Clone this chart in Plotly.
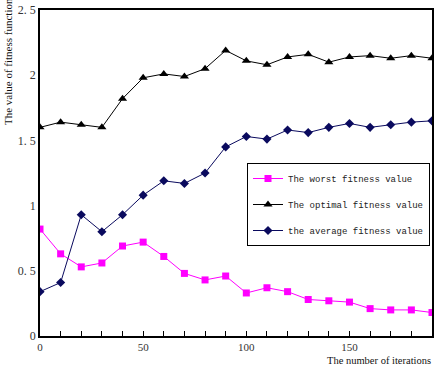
import plotly.graph_objects as go

iterations = [0, 10, 20, 30, 40, 50, 60, 70, 80, 90, 100, 110, 120, 130, 140, 150, 160, 170, 180, 190]
worst = [0.82, 0.63, 0.53, 0.56, 0.69, 0.72, 0.61, 0.48, 0.43, 0.46, 0.33, 0.37, 0.34, 0.28, 0.27, 0.26, 0.21, 0.20, 0.20, 0.18]
optimal = [1.60, 1.64, 1.62, 1.60, 1.82, 1.98, 2.01, 1.99, 2.05, 2.19, 2.11, 2.08, 2.14, 2.16, 2.10, 2.14, 2.15, 2.13, 2.15, 2.13]
average = [0.34, 0.41, 0.93, 0.80, 0.93, 1.08, 1.19, 1.17, 1.25, 1.45, 1.53, 1.51, 1.58, 1.56, 1.60, 1.63, 1.60, 1.62, 1.64, 1.65]
y_ticks = [0, 0.5, 1, 1.5, 2, 2.5]
y_tick_labels = ["0", "0. 5", "1", "1. 5", "2", "2. 5"]
x_ticks = [0, 50, 100, 150]

fig = go.Figure()
fig.add_trace(go.Scatter(x=iterations, y=worst, mode="lines+markers", name="The worst fitness value",
                         legendgroup="a",
                         line=dict(color="#ff00ff", width=1),
                         marker=dict(symbol="square", size=7, color="#ff00ff")))
fig.add_trace(go.Scatter(x=iterations, y=optimal, mode="lines+markers", name="The optimal fitness value",
                         legendgroup="b",
                         line=dict(color="#000000", width=1),
                         marker=dict(symbol="triangle-up", size=8, color="#000000")))
fig.add_trace(go.Scatter(x=iterations, y=average, mode="lines+markers", name="the average fitness value",
                         legendgroup="c",
                         line=dict(color="#0a0a5e", width=1),
                         marker=dict(symbol="diamond", size=7, color="#0a0a5e")))

fig.update_layout(
    width=437, height=367,
    margin=dict(l=40, r=5, t=10, b=31, autoexpand=False),
    paper_bgcolor="white", plot_bgcolor="white",
    font=dict(family="Liberation Serif", size=12, color="#333333"),
    showlegend=True,
    legend=dict(x=(430-40)/392, y=(336-163)/326, xanchor="right", yanchor="top",
                bgcolor="white", bordercolor="black", borderwidth=1,
                font=dict(family="Liberation Mono", size=9, color="#222222"),
                tracegroupgap=7, itemwidth=30),
    xaxis=dict(range=[0, 190], tickvals=x_ticks, showgrid=False, zeroline=False, automargin=False,
               showline=True, linecolor="black", linewidth=1.5, mirror=True,
               ticks="inside", ticklen=5, tickcolor="black", ticklabelstandoff=0,
               tickfont=dict(size=11),
               minor=dict(dtick=10, ticks="inside", ticklen=5, tickcolor="black")),
    yaxis=dict(range=[0, 2.5], tickvals=y_ticks, ticktext=y_tick_labels, showgrid=False, zeroline=False,
               automargin=False,
               showline=True, linecolor="black", linewidth=1.5, mirror=True, ticks=""),
    annotations=[
        dict(text="The value of fitness function", xref="paper", yref="paper",
             x=-32/392, y=(336-62)/326, xanchor="center", yanchor="middle", textangle=-90,
             showarrow=False, font=dict(family="Liberation Serif", size=11, color="#111111")),
        dict(text="The number of iterations", xref="paper", yref="paper",
             x=1.0, y=-31/326, xanchor="right", yanchor="bottom", borderpad=0,
             showarrow=False, font=dict(family="Liberation Serif", size=10.5, color="#111111")),
    ],
)

fig.write_html("out.html", config={"displayModeBar": False},
               post_script="document.body.style.margin='0';document.body.style.overflow='hidden';")
